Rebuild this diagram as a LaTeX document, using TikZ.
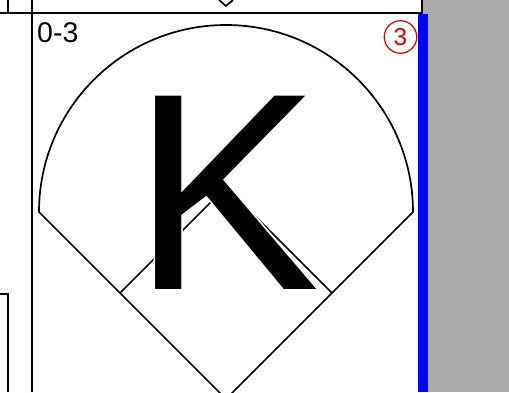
\documentclass[tikz,border=0pt]{standalone}
\usepackage{fontspec}
\setmainfont{Liberation Sans}
\definecolor{panelgray}{RGB}{170,170,170}
\definecolor{markred}{RGB}{204,0,0}
\newcommand{\haloK}{\rlap{\special{pdf:literal direct q 1 Tr 3 w 1 1 1 RG}\textcolor{white}{K}\special{pdf:literal direct 0 Tr Q}}K}
\tikzset{
  ln/.style={draw=black, line width=1.9pt},
  thinln/.style={draw=black, line width=1.3pt},
  field/.style={draw=black, line width=1.7pt, line join=miter},
  kstyle/.style={anchor=base west, inner sep=0pt, font=\fontsize{281}{281}\selectfont},
  score/.style={anchor=base west, inner sep=0pt, font=\fontsize{28.5}{28.5}\selectfont},
  circ/.style={circle, draw=markred, text=markred, line width=1.2pt, minimum size=32.5pt, inner sep=0pt, font=\fontsize{24.5}{24.5}\selectfont}
}
\begin{document}
\begin{tikzpicture}[x=1pt,y=1pt]
\useasboundingbox (0,0) rectangle (509,392);
\clip (0,0) rectangle (509,392);
\fill[white] (0,0) rectangle (509,392);
\fill[panelgray] (423,0) rectangle (509,392);
\draw[ln] (0,379) -- (422,379) -- (422,392);
\draw[thinln] (8,379) -- (8,392);
\draw[ln] (32,0) -- (32,392);
\draw[thinln] (0,98) -- (8,98) -- (8,0);
\draw[field] (219,392) -- (226,386) -- (233,392);
\draw[field] (39,180) arc[start angle=180, end angle=0, radius=187] -- (226,-7) -- cycle;
\draw[field] (120,99) -- (226,205) -- (332,99);
\node[kstyle] (K) at (132,103) {\haloK};
\fill[blue] (417.5,0) rectangle (427.5,378);
\node[score] (count) at (37,349) {0-3};
\node[circ] (out) at (400.5,355) {3};
\end{tikzpicture}
\end{document}
